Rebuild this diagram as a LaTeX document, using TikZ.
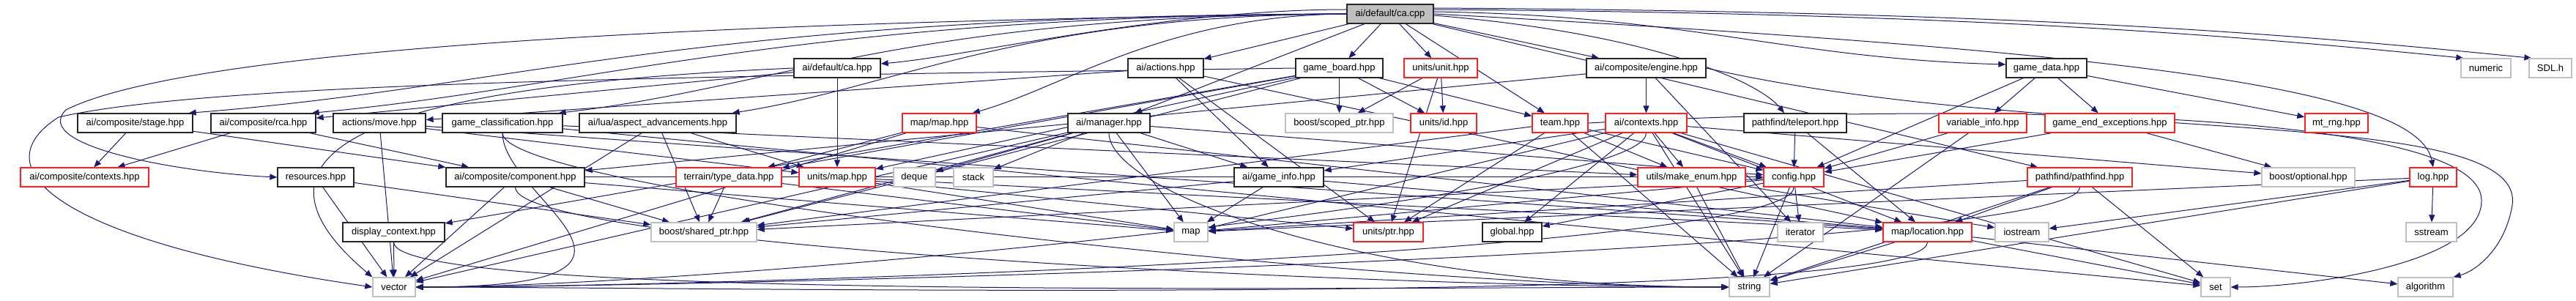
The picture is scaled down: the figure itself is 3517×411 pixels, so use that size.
\documentclass[tikz,border=0pt]{standalone}
\usepackage{fontspec}
\setmainfont{Liberation Sans}
\usetikzlibrary{arrows.meta}
\definecolor{edgec}{HTML}{191970}
\definecolor{nred}{HTML}{FF2020}
\definecolor{ngray}{HTML}{BFBFBF}
\definecolor{cafill}{HTML}{BFBFBF}
\pgfdeclarelayer{bg}
\pgfsetlayers{bg,main}
\tikzset{
  nbase/.style={draw, fill=white, line width=1.3pt, minimum height=26pt, inner sep=0pt,
    font=\fontsize{13}{15}\selectfont, text=black},
  bn/.style={nbase, draw=black!85},
  rn/.style={nbase, draw=nred},
  gn/.style={nbase, draw=ngray},
  e/.style={draw=edgec, line width=1pt, -{Triangle[length=10pt,width=8pt]}},
}
\begin{document}
\begin{tikzpicture}[x=1pt,y=-1pt]
\useasboundingbox (0,0) rectangle (3517,411);
% row 0
\node[bn, fill=cafill, minimum width=118pt] (cacpp) at (1898,19) {ai/default/ca.cpp};
% row 1
\node[bn, minimum width=118pt] (cahpp) at (1143,93) {ai/default/ca.hpp};
\node[bn, minimum width=103pt] (actions) at (1591.5,93) {ai/actions.hpp};
\node[bn, minimum width=119pt] (gameboard) at (1828.5,93) {game\_board.hpp};
\node[rn, minimum width=100pt] (unit) at (1967,93) {units/unit.hpp};
\node[bn, minimum width=163pt] (engine) at (2247.5,93) {ai/composite/engine.hpp};
\node[bn, minimum width=110pt] (gamedata) at (2794,93) {game\_data.hpp};
\node[gn, minimum width=68pt] (numeric) at (3394,93) {numeric};
\node[gn, minimum width=58pt] (sdl) at (3482,93) {SDL.h};
% row 2
\node[bn, minimum width=157pt] (stage) at (184.5,168) {ai/composite/stage.hpp};
\node[bn, minimum width=143pt] (rca) at (359.5,168) {ai/composite/rca.hpp};
\node[bn, minimum width=126pt] (move) at (518,168) {actions/move.hpp};
\node[bn, minimum width=164pt] (gameclass) at (686,168) {game\_classification.hpp};
\node[bn, minimum width=214pt] (aspect) at (898,168) {ai/lua/aspect\_advancements.hpp};
\node[rn, minimum width=101pt] (mapmap) at (1282.5,168) {map/map.hpp};
\node[bn, minimum width=112pt] (manager) at (1514,168) {ai/manager.hpp};
\node[gn, minimum width=147pt] (scoped) at (1828.5,168) {boost/scoped\_ptr.hpp};
\node[rn, minimum width=90pt] (unitsid) at (1971,168) {units/id.hpp};
\node[rn, minimum width=76pt] (team) at (2130,168) {team.hpp};
\node[rn, minimum width=111pt] (aicontexts) at (2247.5,168) {ai/contexts.hpp};
\node[bn, minimum width=140pt] (teleport) at (2451,168) {pathfind/teleport.hpp};
\node[rn, minimum width=120pt] (varinfo) at (2707,168) {variable\_info.hpp};
\node[rn, minimum width=177pt] (gameend) at (2880.5,168) {game\_end\_exceptions.hpp};
\node[rn, minimum width=86pt] (mtrng) at (3190,168) {mt\_rng.hpp};
% row 3
\node[rn, minimum width=175pt] (compcontexts) at (115.5,242) {ai/composite/contexts.hpp};
\node[bn, minimum width=104pt] (resources) at (431,242) {resources.hpp};
\node[bn, minimum width=189pt] (component) at (703.5,242) {ai/composite/component.hpp};
\node[rn, minimum width=144pt] (typedata) at (995,242) {terrain/type\_data.hpp};
\node[rn, minimum width=104pt] (unitsmap) at (1143,242) {units/map.hpp};
\node[gn, minimum width=57pt] (deque) at (1248.5,242) {deque};
\node[gn, minimum width=54pt] (stack) at (1329,242) {stack};
\node[bn, minimum width=122pt] (gameinfo) at (1746,242) {ai/game\_info.hpp};
\node[rn, minimum width=147pt] (makeenum) at (2309.5,242) {utils/make\_enum.hpp};
\node[rn, minimum width=82pt] (config) at (2449,242) {config.hpp};
\node[rn, minimum width=143pt] (pathfind) at (2839.5,242) {pathfind/pathfind.hpp};
\node[gn, minimum width=127pt] (optional) at (3151.5,242) {boost/optional.hpp};
\node[rn, minimum width=64pt] (log) at (3322,242) {log.hpp};
% row 4
\node[bn, minimum width=139pt] (dispctx) at (537.5,317) {display\_context.hpp};
\node[gn, minimum width=144pt] (sharedptr) at (961,317) {boost/shared\_ptr.hpp};
\node[gn, minimum width=46pt] (map) at (1626,317) {map};
\node[rn, minimum width=95pt] (ptr) at (1895.5,317) {units/ptr.hpp};
\node[bn, minimum width=81pt] (global) at (2064.5,317) {global.hpp};
\node[gn, minimum width=62pt] (iterator) at (2458,317) {iterator};
\node[rn, minimum width=121pt] (location) at (2631.5,317) {map/location.hpp};
\node[gn, minimum width=73pt] (iostream) at (2760.5,317) {iostream};
\node[gn, minimum width=69pt] (sstream) at (3319.5,317) {sstream};
% row 5
\node[gn, minimum width=58pt] (vector) at (538,392) {vector};
\node[gn, minimum width=55pt] (string) at (2388.5,392) {string};
\node[gn, minimum width=40pt] (set) at (3025,392) {set};
\node[gn, minimum width=75pt] (algorithm) at (3311.5,392) {algorithm};

\begin{pgfonlayer}{bg}
% straight edges
\foreach \s/\t in {
 cacpp/actions, cacpp/manager, cacpp/gameboard, cacpp/unit,
 cacpp/team, cacpp/engine, cacpp/pathfind,
 cahpp/rca, cahpp/unitsmap,
 stage/compcontexts, stage/component, rca/compcontexts, rca/component,
 actions/move, actions/gameinfo, actions/location, actions/ptr,
 move/location, move/unitsmap,
 gameclass/makeenum, gameclass/set,
 aspect/unitsmap, aspect/sharedptr,
 mapmap/typedata, mapmap/location,
 manager/deque, manager/stack, manager/map, manager/gameinfo, manager/config,
 manager/sharedptr,
 gameboard/scoped, gameboard/unitsid, gameboard/team, gameboard/dispctx,
 gameboard/typedata, gameboard/unitsmap, gameboard/sharedptr,
 unit/scoped, unit/unitsid, unit/ptr,
 team/ptr, team/makeenum, team/config, team/sharedptr,
 engine/aicontexts, engine/component, engine/iterator,
 aicontexts/gameinfo, aicontexts/ptr, aicontexts/global, aicontexts/makeenum,
 aicontexts/config, aicontexts/location, aicontexts/map, aicontexts/set,
 aicontexts/optional,
 gamedata/config, gamedata/varinfo, gamedata/gameend, gamedata/mtrng,
 teleport/config, teleport/location,
 varinfo/config, gameend/config, gameend/optional,
 pathfind/location, pathfind/set, pathfind/map,
 makeenum/iostream,
 config/global, config/iterator, config/map, config/sharedptr,
 location/set, location/algorithm,
 log/sstream, log/iostream, log/map,
 component/config, component/sharedptr, component/map,
 dispctx/vector, resources/vector, resources/sharedptr,
 typedata/sharedptr, typedata/map,
 unitsmap/location, unitsmap/ptr, unitsmap/map,
 gameinfo/map, gameinfo/sharedptr, gameinfo/location,
 move/vector, aspect/vector, mapmap/vector, component/vector, manager/vector,
 makeenum/string, config/string, location/string, varinfo/string,
 pathfind/string, log/string, team/string, aicontexts/string}
 {\draw[e] (\s) -- (\t);}

% from ca.cpp fanning out to the left
\draw[e] ([yshift=6pt]cacpp.west) .. controls +(-250,0) and +(120,-10) .. ([yshift=6pt]cahpp.east);
\foreach \t/\d in {stage/900, rca/750, gameclass/600, aspect/450, mapmap/250}
 {\draw[e] (cacpp.west) .. controls +(-\d,2) and +(\d/2,-35) .. ([xshift=-6pt]\t.north east);}
% from ca.cpp fanning out to the right
\draw[e] ([yshift=3pt]cacpp.east) .. controls +(350,5) and +(-300,-8) .. ([yshift=5pt]gamedata.west);
\draw[e] ([yshift=6pt]cacpp.east) .. controls +(700,5) and +(-350,-35) .. ([xshift=4pt]numeric.north west);
\draw[e] ([yshift=8pt]cacpp.east) .. controls +(800,5) and +(-350,-35) .. ([xshift=4pt]sdl.north west);
\draw[e] ([yshift=-2pt]cacpp.east) .. controls (2250,45) and (2400,110) .. ([xshift=-15pt]teleport.north);

% curved edges into vector from the right along the bottom
\foreach \s in {config, location, aicontexts, pathfind, gameclass}
 {\draw[e] (\s.south) .. controls +(0,90) and +(400,0) .. (vector.east);}
% into string from the left along the bottom
\foreach \s in {component, dispctx, manager, gameclass}
 {\draw[e] (\s.south) .. controls +(0,80) and +(-500,0) .. (string.west);}

% long loops
\draw[e] (cacpp.west) .. controls (900,30) and (250,70) .. (90,150)
   .. controls (40,200) and (250,236) .. (resources.west);
\draw[e] (gameboard.west) .. controls (1000,104) and (300,110) .. (80,160)
   .. controls (-30,230) and (80,330) .. (vector.west);
\draw[e] (cacpp.east) .. controls (2900,70) and (3300,120) .. (log.north);
\draw[e] (engine.east) .. controls (2800,200) and (3450,140) .. (3430,280)
   .. controls (3420,340) and (3380,370) .. (algorithm.north east);
\draw[e] (team.east) .. controls (2700,140) and (3385,150) .. (3388,273)
   .. controls (3390,360) and (3150,392) .. (set.east);
\draw[e] (cahpp.west) .. controls (700,110) and (250,160) .. (vector.north west);
\end{pgfonlayer}
\end{tikzpicture}
\end{document}
